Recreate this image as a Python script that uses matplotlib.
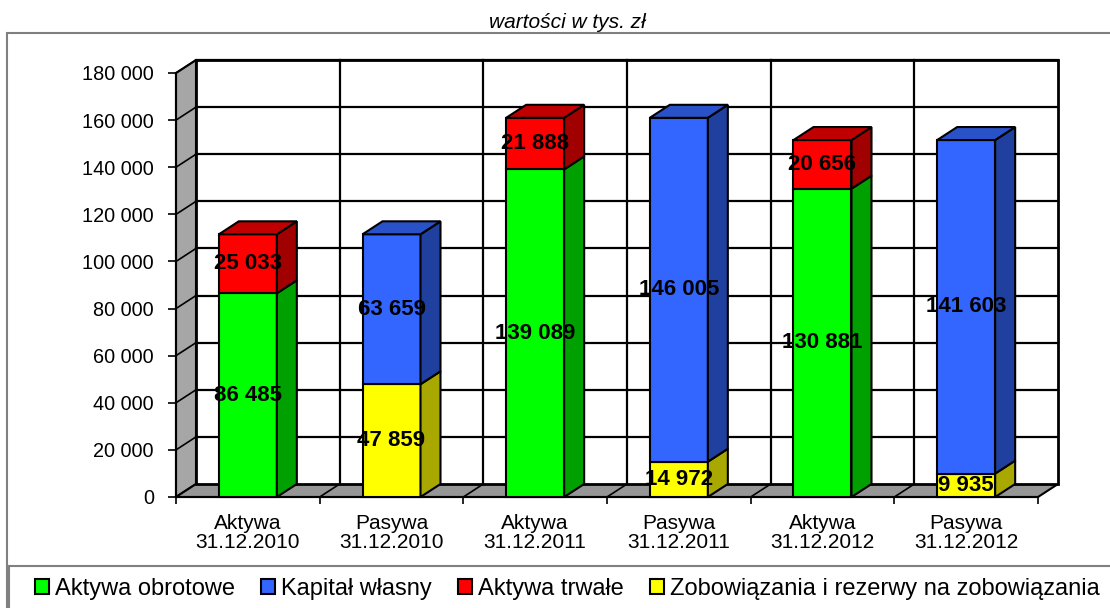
import matplotlib
matplotlib.use("Agg")
import matplotlib.pyplot as plt
from matplotlib.patches import Polygon, Rectangle, Patch

plt.rcParams['font.family'] = ['Liberation Sans', 'DejaVu Sans']

# data (tys. zl)
categories = ["Aktywa\n31.12.2010", "Pasywa\n31.12.2010",
              "Aktywa\n31.12.2011", "Pasywa\n31.12.2011",
              "Aktywa\n31.12.2012", "Pasywa\n31.12.2012"]
aktywa_obrotowe = [86485, 0, 139089, 0, 130881, 0]
kapital_wlasny = [0, 63659, 0, 146005, 0, 141603]
aktywa_trwale = [25033, 0, 21888, 0, 20656, 0]
zobowiazania = [0, 47859, 0, 14972, 0, 9935]
yticks = list(range(0, 180001, 20000))

# colours: front, top, side
col_green = ("#00FF00", "#00C000", "#00A000")
col_blue = ("#3366FF", "#2A52C8", "#2040A0")
col_red = ("#FF0000", "#C00000", "#A00000")
col_yellow = ("#FFFF00", "#CCCC00", "#A8A800")

# stacking order (bottom -> top)
stack = [(aktywa_obrotowe, col_green), (zobowiazania, col_yellow),
         (aktywa_trwale, col_red), (kapital_wlasny, col_blue)]

W, H = 1110, 608
fig = plt.figure(figsize=(W / 100, H / 100), dpi=100)
ax = fig.add_axes([176 / W, (H - 497) / H, 862 / W, 424 / H])
ax.set_xlim(0, 6)
ax.set_ylim(0, 180000)
ax.set_facecolor("none")

# depth offset in data units
DX = 20 / (862 / 6)
DY = 13 / (424 / 180000)
ymax = yticks[-1]
n = len(categories)

# outer frame and legend frame
fig.patches.append(Rectangle((7 / W, -0.1), 1.2, (H - 33) / H + 0.1, transform=fig.transFigure,
                             fill=False, edgecolor="#808080", lw=1.5, zorder=0))
fig.patches.append(Rectangle((9 / W, -0.1), 1.2, (H - 566) / H + 0.1, transform=fig.transFigure,
                             fill=False, edgecolor="#808080", lw=1.5, zorder=0))

# walls
ax.add_patch(Polygon([(0, 0), (DX, DY), (DX, ymax + DY), (0, ymax)], closed=True,
                     facecolor="#A6A6A6", edgecolor="black", lw=1.5, clip_on=False, zorder=1))
ax.add_patch(Polygon([(0, 0), (n, 0), (n + DX, DY), (DX, DY)], closed=True,
                     facecolor="#969696", edgecolor="black", lw=1.5, clip_on=False, zorder=1))
ax.add_patch(Rectangle((DX, DY), n, ymax, facecolor="white", edgecolor="black",
                       lw=2, clip_on=False, zorder=1))

# gridlines
for v in yticks[1:]:
    ax.plot([DX, n + DX], [v + DY, v + DY], color="black", lw=1.6, clip_on=False, zorder=1.5)
    ax.plot([0, DX], [v, v + DY], color="black", lw=1.2, clip_on=False, zorder=1.5)
for k in range(1, n):
    ax.plot([k + DX, k + DX], [DY, ymax + DY], color="black", lw=1.6, clip_on=False, zorder=1.5)
    ax.plot([k, k + DX], [0, DY], color="black", lw=1.2, clip_on=False, zorder=1.5)

# 3d bars
bw = 58 / (862 / 6)
for i in range(n):
    x0 = i + 0.5 - bw / 2
    x1 = i + 0.5 + bw / 2
    segs = [(vals[i], c) for vals, c in stack if vals[i] > 0]
    b = 0
    for j, (v, c) in enumerate(segs):
        t = b + v
        ax.add_patch(Rectangle((x0, b), bw, v, facecolor=c[0], edgecolor="black",
                               lw=1.5, clip_on=False, zorder=3))
        ax.add_patch(Polygon([(x1, b), (x1 + DX, b + DY), (x1 + DX, t + DY), (x1, t)], closed=True,
                             facecolor=c[2], edgecolor="black", lw=1.5, clip_on=False, zorder=3))
        if j == len(segs) - 1:
            ax.add_patch(Polygon([(x0, t), (x0 + DX, t + DY), (x1 + DX, t + DY), (x1, t)], closed=True,
                                 facecolor=c[1], edgecolor="black", lw=1.5, clip_on=False, zorder=3))
        ax.text(i + 0.5, b + v / 2, f"{v:,}".replace(",", " "), ha="center", va="center",
                fontsize=16, fontweight="bold", color="black", zorder=5)
        b = t

# axes
for s in ["top", "right"]:
    ax.spines[s].set_visible(False)
for s in ["left", "bottom"]:
    ax.spines[s].set_linewidth(1.5)
    ax.spines[s].set_zorder(2)
ax.set_yticks(yticks)
ax.set_yticklabels([f"{v:,}".replace(",", " ") for v in yticks], fontsize=14.3)
ax.tick_params(axis="y", length=6, width=1.2, pad=10)
ax.set_xticks(range(n + 1))
ax.set_xticklabels([])
ax.tick_params(axis="x", which="major", length=5, width=1.2)
ax.set_xticks([i + 0.5 for i in range(n)], minor=True)
ax.set_xticklabels(categories, minor=True, fontsize=15, linespacing=1.05)
ax.tick_params(axis="x", which="minor", length=0, pad=12)

# title
fig.text(567 / W, 1 - 22 / H, "wartości w tys. zł", ha="center", va="center",
         fontsize=15, style="italic")

# legend
handles = [Patch(facecolor=col_green[0], edgecolor="black", lw=1.5),
           Patch(facecolor=col_blue[0], edgecolor="black", lw=1.5),
           Patch(facecolor=col_red[0], edgecolor="black", lw=1.5),
           Patch(facecolor=col_yellow[0], edgecolor="black", lw=1.5)]
labels = ["Aktywa obrotowe", "Kapitał własny", "Aktywa trwałe",
          "Zobowiązania i rezerwy na zobowiązania"]
fig.legend(handles, labels, loc="center left", bbox_to_anchor=(35 / W, 1 - 589 / H),
           ncol=4, frameon=False, fontsize=17, handlelength=0.6, handleheight=0.6,
           handletextpad=0.25, columnspacing=1.1, borderaxespad=0, borderpad=0)

fig.savefig("out.png", dpi=100)
